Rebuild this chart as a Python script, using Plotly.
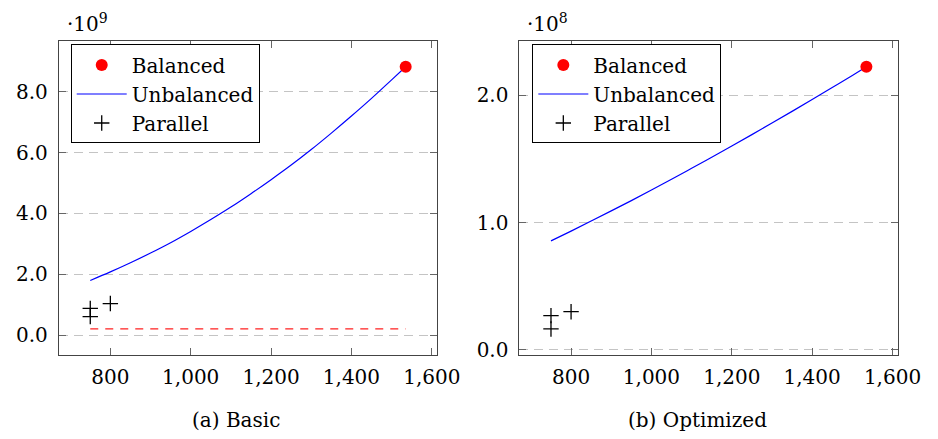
import plotly.graph_objects as go

# ---------------- data ----------------
# (a) Basic
basic_unbal_x = [750, 800, 850, 900, 950, 1000, 1050, 1100, 1150, 1200, 1250, 1300, 1350, 1400, 1450, 1500, 1535]
basic_unbal_y = [1.80e9, 2.08e9, 2.38e9, 2.70e9, 3.04e9, 3.41e9, 3.80e9, 4.21e9, 4.65e9, 5.11e9,
                 5.59e9, 6.10e9, 6.64e9, 7.20e9, 7.78e9, 8.39e9, 8.82e9]
basic_bal_x = [1535]
basic_bal_y = [8.82e9]
basic_par_x = [750, 750, 800]
basic_par_y = [0.88e9, 0.61e9, 1.04e9]
basic_ref_x = [750, 1535]
basic_ref_y = [0.205e9, 0.205e9]

# (b) Optimized
opt_unbal_x = [750, 800, 850, 900, 950, 1000, 1050, 1100, 1150, 1200, 1250, 1300, 1350, 1400, 1450, 1500, 1535]
opt_unbal_y = [0.856e8, 0.933e8, 1.012e8, 1.092e8, 1.173e8, 1.256e8, 1.341e8, 1.427e8, 1.514e8, 1.602e8,
               1.692e8, 1.783e8, 1.875e8, 1.968e8, 2.063e8, 2.158e8, 2.226e8]
opt_bal_x = [1535]
opt_bal_y = [2.226e8]
opt_par_x = [750, 750, 800]
opt_par_y = [0.268e8, 0.163e8, 0.299e8]

x_ticks = [800, 1000, 1200, 1400, 1600]
basic_y_ticks = [0, 2e9, 4e9, 6e9, 8e9]
basic_y_labels = ["0.0", "2.0", "4.0", "6.0", "8.0"]
opt_y_ticks = [0, 1e8, 2e8]
opt_y_labels = ["0.0", "1.0", "2.0"]

W, H = 938, 439
FONT = "DejaVu Serif"
FS = 20

fig = go.Figure()

def add_panel(xa, ya, leg, ux, uy, bx, by, px, py, refx=None, refy=None):
    if refx is not None:
        fig.add_trace(go.Scatter(x=refx, y=refy, mode="lines", xaxis=xa, yaxis=ya,
                                 line=dict(color="#ff2020", width=1.3, dash="8px,7px"),
                                 showlegend=False, hoverinfo="skip"))
    fig.add_trace(go.Scatter(x=ux, y=uy, mode="lines", name="Unbalanced", xaxis=xa, yaxis=ya,
                             line=dict(color="#0000ff", width=1.2, shape="spline"), legend=leg, legendrank=2))
    fig.add_trace(go.Scatter(x=px, y=py, mode="markers", name="Parallel", xaxis=xa, yaxis=ya,
                             marker=dict(symbol="cross-thin", size=11, line=dict(color="black", width=1.3)),
                             legend=leg, legendrank=3))
    fig.add_trace(go.Scatter(x=bx, y=by, mode="markers", name="Balanced", xaxis=xa, yaxis=ya,
                             marker=dict(symbol="circle", size=12, color="#ff0000"),
                             legend=leg, legendrank=1))

add_panel("x", "y", "legend", basic_unbal_x, basic_unbal_y, basic_bal_x, basic_bal_y,
          basic_par_x, basic_par_y, basic_ref_x, basic_ref_y)
add_panel("x2", "y2", "legend2", opt_unbal_x, opt_unbal_y, opt_bal_x, opt_bal_y,
          opt_par_x, opt_par_y)

def px_x(p):
    return p / W

def px_y(p):
    return 1 - p / H

axis_common = dict(
    showline=True, linecolor="#444444", linewidth=1, mirror="allticks",
    ticks="inside", ticklen=7, tickcolor="#666666", tickwidth=1,
    tickfont=dict(family=FONT, size=FS, color="black"),
    zeroline=False,
)

def padded(vals):
    lo, hi = min(vals), max(vals)
    d = hi - lo
    return [lo - 0.1 * d, hi + 0.1 * d]

basic_all_x = basic_unbal_x + basic_bal_x + basic_par_x + basic_ref_x
basic_all_y = basic_unbal_y + basic_bal_y + basic_par_y + basic_ref_y
opt_all_x = opt_unbal_x + opt_bal_x + opt_par_x
opt_all_y = opt_unbal_y + opt_bal_y + opt_par_y

legend_common = dict(xanchor="left", yanchor="top",
                     bgcolor="white", bordercolor="black", borderwidth=1,
                     font=dict(family=FONT, size=FS, color="black"),
                     itemwidth=50, tracegroupgap=0, traceorder="normal")

fig.update_layout(
    width=W, height=H,
    margin=dict(l=0, r=0, t=0, b=0),
    paper_bgcolor="white", plot_bgcolor="white",
    font=dict(family=FONT, size=FS, color="black"),
    xaxis=dict(axis_common, domain=[px_x(52), px_x(440)], range=padded(basic_all_x),
               tickvals=x_ticks, tickformat=",d", showgrid=False, anchor="y",
               ticklabelstandoff=4),
    yaxis=dict(axis_common, domain=[px_y(352), px_y(33)], range=padded(basic_all_y),
               tickvals=basic_y_ticks, ticktext=basic_y_labels, showgrid=True,
               gridcolor="#c4c4c4", griddash="9px,6px", gridwidth=1, anchor="x",
               ticklabelstandoff=6),
    xaxis2=dict(axis_common, domain=[px_x(524.3), px_x(912.3)], range=padded(opt_all_x),
                tickvals=x_ticks, tickformat=",d", showgrid=False, anchor="y2",
                ticklabelstandoff=4),
    yaxis2=dict(axis_common, domain=[px_y(352), px_y(33)], range=padded(opt_all_y),
                tickvals=opt_y_ticks, ticktext=opt_y_labels, showgrid=True,
                gridcolor="#c4c4c4", griddash="9px,6px", gridwidth=1, anchor="x2",
                ticklabelstandoff=6),
    legend=dict(legend_common, x=px_x(64.3), y=px_y(37)),
    legend2=dict(legend_common, x=px_x(537.5), y=px_y(37)),
    showlegend=True,
)

annotations = [
    dict(text="·10<sup>9</sup>", x=px_x(58), y=px_y(15), xanchor="left", yanchor="middle"),
    dict(text="·10<sup>8</sup>", x=px_x(530), y=px_y(15), xanchor="left", yanchor="middle"),
    dict(text="(a) Basic", x=px_x(233.5), y=px_y(418), xanchor="center", yanchor="middle"),
    dict(text="(b) Optimized", x=px_x(706.7), y=px_y(418), xanchor="center", yanchor="middle"),
]
for a in annotations:
    fig.add_annotation(xref="paper", yref="paper", showarrow=False,
                       font=dict(family=FONT, size=FS, color="black"), **a)

fig.write_html("out.html")
